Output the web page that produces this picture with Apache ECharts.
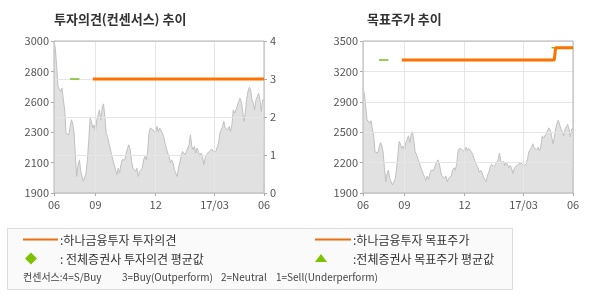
<!DOCTYPE html>
<html><head><meta charset="utf-8">
<script src="https://cdn.jsdelivr.net/npm/echarts@6/dist/echarts.min.js"></script>
<style>html,body{margin:0;padding:0;background:#fff}#c{width:590px;height:300px}</style>
</head><body><div id="c"></div>
<script>
// ---- data ----
const price = [3000,2947,2815,2670,2675,2634,2660,2574,2500,2333,
2345,2320,2333,2430,2405,2333,2165,2020,2105,2140,
2056,2020,1985,1996,2044,2140,2285,2442,2418,2370,
2393,2345,2430,2466,2502,2430,2514,2545,2454,2333,
2309,2261,2225,2177,2140,2105,2093,2032,2080,2044,
2105,2140,2153,2140,2189,2225,2249,2213,2129,2080,
2068,2056,2080,2020,2056,2044,2080,2140,2165,2140,
2201,2333,2370,2382,2357,2370,2333,2382,2345,2370,
2382,2333,2309,2261,2225,2189,2165,2117,2140,2117,
2068,2044,2020,2080,2117,2165,2201,2213,2177,2201,
2189,2249,2321,2237,2213,2237,2189,2225,2201,2165,
2189,2165,2105,2153,2177,2189,2201,2213,2218,2201,
2189,2201,2201,2261,2333,2357,2382,2418,2370,2382,
2357,2382,2345,2393,2502,2478,2502,2526,2562,2586,
2562,2502,2418,2478,2574,2634,2665,2646,2574,2550,
2502,2574,2598,2622,2574,2490,2574,2574];
const categories = price.map((_, i) => i);
const tickLabels = ["06", "09", "12", "17/03", "06"];
const tickIndex = [0, 31, 76, 120, 157];
// segments: [fromIndex, toIndex, value]
const hanaOpinion = [[29, 157, 3]];
const allOpinionAvg = [[12, 19, 3]];
const hanaTarget = [[29, 143, 3300], [144, 157, 3430]];
const allTargetAvg = [[12, 19, 3300], [141, 144, 3430]];
const leftAxisRange = [1900, 3000];
const opinionAxisRange = [0, 4];
const targetAxisRange = [1900, 3500];
const consensusNote = ['컨센서스:4=S/Buy', '3=Buy(Outperform)', '2=Neutral', '1=Sell(Underperform)'];

function segs(list) {
  const arr = categories.map(() => null);
  list.forEach(([a, b, v]) => { for (let i = a; i <= b; i++) arr[i] = v; });
  return arr;
}

const FONT = "'Noto Sans CJK KR', 'Noto Sans', sans-serif";
const ORANGE = '#ff7200';
const GREEN = '#7fb925';
const lbl = { color: '#555', fontSize: 11, fontFamily: FONT };
const showTick = (idx) => tickIndex.indexOf(idx) >= 0;

function xAx(gi) {
  return {
    type: 'category', gridIndex: gi, data: categories, boundaryGap: false, z: 2,
    axisLine: { show: false },
    axisTick: { show: true, interval: showTick, length: 3, lineStyle: { color: '#aaa' } },
    axisLabel: Object.assign({}, lbl, { interval: showTick, margin: 6, hideOverlap: false,
      showMinLabel: true, showMaxLabel: true,
      formatter: (v, idx) => tickLabels[tickIndex.indexOf(Number(v))] || '' }),
    splitLine: { show: true, interval: showTick, lineStyle: { color: '#e6e6e6', width: 1 } }
  };
}
const roundLabel = (v) => String(Math.round(v / 100) * 100);

const noteX = [23, 122, 221, 276];
const option = {
  animation: false,
  textStyle: { fontFamily: FONT },
  grid: [
    { left: 54, top: 41, width: 210, height: 152, show: true, borderColor: '#b4b4b4', borderWidth: 1, z: 3 },
    { left: 363, top: 41, width: 210, height: 152, show: true, borderColor: '#b4b4b4', borderWidth: 1, z: 3 }
  ],
  xAxis: [xAx(0), xAx(1)],
  yAxis: [
    { type: 'value', gridIndex: 0, min: leftAxisRange[0], max: leftAxisRange[1], interval: 220, z: 2,
      axisLine: { show: false }, axisTick: { show: true, length: 3, lineStyle: { color: '#aaa' } },
      axisLabel: Object.assign({}, lbl, { margin: 5, formatter: roundLabel }),
      splitLine: { show: false } },
    { type: 'value', gridIndex: 0, position: 'right', min: opinionAxisRange[0], max: opinionAxisRange[1], interval: 1, z: 2,
      axisLine: { show: false }, axisTick: { show: true, length: 3, lineStyle: { color: '#aaa' } },
      axisLabel: Object.assign({}, lbl, { margin: 6 }),
      splitLine: { show: true, lineStyle: { color: '#e6e6e6' } } },
    { type: 'value', gridIndex: 1, min: targetAxisRange[0], max: targetAxisRange[1], interval: 320, z: 2,
      axisLine: { show: false }, axisTick: { show: true, length: 3, lineStyle: { color: '#aaa' } },
      axisLabel: Object.assign({}, lbl, { margin: 5, formatter: roundLabel }),
      splitLine: { show: true, lineStyle: { color: '#e6e6e6' } } }
  ],
  series: [
    { type: 'line', xAxisIndex: 0, yAxisIndex: 0, data: price, symbol: 'none', z: 1,
      lineStyle: { color: '#c0c0c0', width: 1 }, areaStyle: { color: '#e1e1e1', opacity: 1 } },
    { type: 'line', xAxisIndex: 0, yAxisIndex: 1, data: segs(allOpinionAvg), symbol: 'none', z: 5,
      lineStyle: { color: GREEN, width: 1.5 } },
    { type: 'line', xAxisIndex: 0, yAxisIndex: 1, data: segs(hanaOpinion), symbol: 'none', z: 6,
      lineStyle: { color: ORANGE, width: 3 } },
    { type: 'line', xAxisIndex: 1, yAxisIndex: 2, data: price, symbol: 'none', z: 1,
      lineStyle: { color: '#c0c0c0', width: 1 }, areaStyle: { color: '#e1e1e1', opacity: 1 } },
    { type: 'line', xAxisIndex: 1, yAxisIndex: 2, data: segs(allTargetAvg), symbol: 'none', z: 5,
      lineStyle: { color: GREEN, width: 1.5 } },
    { type: 'line', xAxisIndex: 1, yAxisIndex: 2, data: segs(hanaTarget), symbol: 'none', step: 'end', z: 6,
      lineStyle: { color: ORANGE, width: 3 } }
  ],
  graphic: [
    { type: 'text', left: 54, top: 13, style: { text: '투자의견(컨센서스) 추이', fill: '#333', font: 'bold 13px ' + FONT } },
    { type: 'text', left: 367, top: 13, style: { text: '목표주가 추이', fill: '#333', font: 'bold 13px ' + FONT } },
    { type: 'rect', shape: { x: 7.5, y: 228.5, width: 505, height: 61 }, style: { fill: '#fafafa', stroke: '#dcdcdc', lineWidth: 1 } },
    { type: 'line', shape: { x1: 23, y1: 239.5, x2: 58, y2: 239.5 }, style: { stroke: '#ee6d10', lineWidth: 2 } },
    { type: 'text', x: 60, y: 240, style: { text: ':하나금융투자 투자의견', fill: '#333', font: '12px ' + FONT, verticalAlign: 'middle' } },
    { type: 'polygon', shape: { points: [[31, 252.5], [37, 258.5], [31, 264.5], [25, 258.5]] }, style: { fill: '#7cc200' } },
    { type: 'text', x: 60, y: 259, style: { text: ': 전체증권사 투자의견 평균값', fill: '#333', font: '12px ' + FONT, verticalAlign: 'middle' } },
    { type: 'line', shape: { x1: 315, y1: 239.5, x2: 351, y2: 239.5 }, style: { stroke: '#ee6d10', lineWidth: 2 } },
    { type: 'text', x: 353, y: 240, style: { text: ':하나금융투자 목표주가', fill: '#333', font: '12px ' + FONT, verticalAlign: 'middle' } },
    { type: 'polygon', shape: { points: [[321, 254], [327, 262], [315, 262]] }, style: { fill: '#7cc200' } },
    { type: 'text', x: 353, y: 259, style: { text: ':전체증권사 목표주가 평균값', fill: '#333', font: '12px ' + FONT, verticalAlign: 'middle' } }
  ].concat(consensusNote.map((t, i) => ({ type: 'text', x: noteX[i], y: 277,
      style: { text: t, fill: '#444', font: '10px ' + FONT, verticalAlign: 'middle' } })))
};
echarts.init(document.getElementById('c'), null, { renderer: 'canvas' }).setOption(option);
</script></body></html>
